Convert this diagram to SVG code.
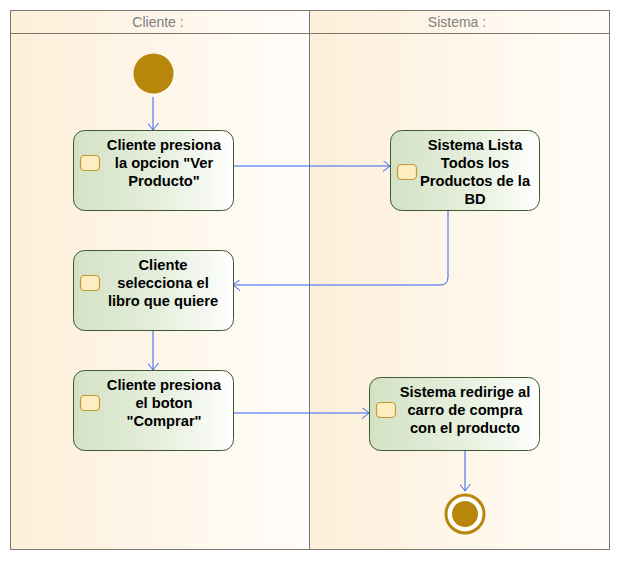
<svg xmlns="http://www.w3.org/2000/svg" width="620" height="561" viewBox="0 0 620 561">
<defs>
<linearGradient id="lane" x1="0" y1="0" x2="1" y2="0">
<stop offset="0" stop-color="#fdefd9"/>
<stop offset="1" stop-color="#fffdfa"/>
</linearGradient>
<linearGradient id="act" x1="0" y1="0" x2="1" y2="0">
<stop offset="0" stop-color="#d3e2c5"/>
<stop offset="0.55" stop-color="#e6efdd"/>
<stop offset="1" stop-color="#ffffff"/>
</linearGradient>
<marker id="arr" viewBox="0 0 7 11" refX="7" refY="5.5" markerWidth="7" markerHeight="11" markerUnits="userSpaceOnUse" orient="auto">
<path d="M0,0 L7,5.5 L0,11" fill="none" stroke="#3162f5" stroke-width="1"/>
</marker>
<style>
.act{fill:url(#act);stroke:#3f5a2c;stroke-width:1}
.ico{fill:#fdedc0;stroke:#c49a35;stroke-width:1.2}
.t{font-family:"Liberation Sans",Arial,sans-serif;font-size:14.7px;font-weight:bold;fill:#000;text-anchor:middle}
.h{font-family:"Liberation Sans",Arial,sans-serif;font-size:14px;fill:#7f7f7f;text-anchor:middle}
.c{fill:none;stroke:#3162f5;stroke-width:1;marker-end:url(#arr)}
</style>
</defs>
<rect width="620" height="561" fill="#ffffff"/>
<g id="lanes">
<rect x="10.5" y="10.5" width="299" height="539" fill="url(#lane)"/>
<rect x="309.5" y="10.5" width="300" height="539" fill="url(#lane)"/>
<rect x="10.5" y="10.5" width="599" height="539" fill="none" stroke="#7f776e" stroke-width="1"/>
<line x1="10.5" y1="33.5" x2="609.5" y2="33.5" stroke="#7f776e"/>
<line x1="309.5" y1="10.5" x2="309.5" y2="549.5" stroke="#7f776e"/>
<text class="h" x="158" y="27">Cliente :</text>
<text class="h" x="457" y="27">Sistema :</text>
</g>
<g id="connectors">
<path class="c" d="M153,97 V130"/>
<path class="c" d="M233,166 H390"/>
<path class="c" d="M448,210 V277 Q448,285 440,285 H233"/>
<path class="c" d="M153,330 V370"/>
<path class="c" d="M233,413 H369"/>
<path class="c" d="M465,450 V491"/>
</g>
<g id="start">
<circle cx="153.5" cy="73.5" r="20" fill="#b8860b"/>
</g>
<g id="n1">
<rect class="act" x="73.5" y="130.5" width="160" height="80" rx="11"/>
<rect class="ico" x="80.5" y="155.5" width="19" height="15" rx="4"/>
<text class="t" x="164" y="150">Cliente presiona</text>
<text class="t" x="164" y="168">la opcion "Ver</text>
<text class="t" x="164" y="186">Producto"</text>
</g>
<g id="n2">
<rect class="act" x="390.5" y="130.5" width="149" height="80" rx="11"/>
<rect class="ico" x="397.5" y="164.5" width="19" height="15" rx="4"/>
<text class="t" x="475" y="150">Sistema Lista</text>
<text class="t" x="475" y="168">Todos los</text>
<text class="t" x="475" y="186">Productos de la</text>
<text class="t" x="475" y="204">BD</text>
</g>
<g id="n3">
<rect class="act" x="73.5" y="250.5" width="160" height="80" rx="11"/>
<rect class="ico" x="80.5" y="275.5" width="19" height="15" rx="4"/>
<text class="t" x="163" y="270">Cliente</text>
<text class="t" x="163" y="288">selecciona el</text>
<text class="t" x="163" y="306">libro que quiere</text>
</g>
<g id="n4">
<rect class="act" x="73.5" y="370.5" width="160" height="80" rx="11"/>
<rect class="ico" x="80.5" y="395.5" width="19" height="15" rx="4"/>
<text class="t" x="164" y="390">Cliente presiona</text>
<text class="t" x="164" y="408">el boton</text>
<text class="t" x="164" y="426">"Comprar"</text>
</g>
<g id="n5">
<rect class="act" x="369.5" y="377.5" width="170" height="73" rx="11"/>
<rect class="ico" x="376.5" y="402.5" width="19" height="15" rx="4"/>
<text class="t" x="465" y="397">Sistema redirige al</text>
<text class="t" x="465" y="415">carro de compra</text>
<text class="t" x="465" y="433">con el producto</text>
</g>
<g id="end">
<circle cx="465" cy="514" r="19" fill="#ffffff" stroke="#b8860b" stroke-width="3"/>
<circle cx="465" cy="514" r="13" fill="#b8860b"/>
</g>
</svg>
